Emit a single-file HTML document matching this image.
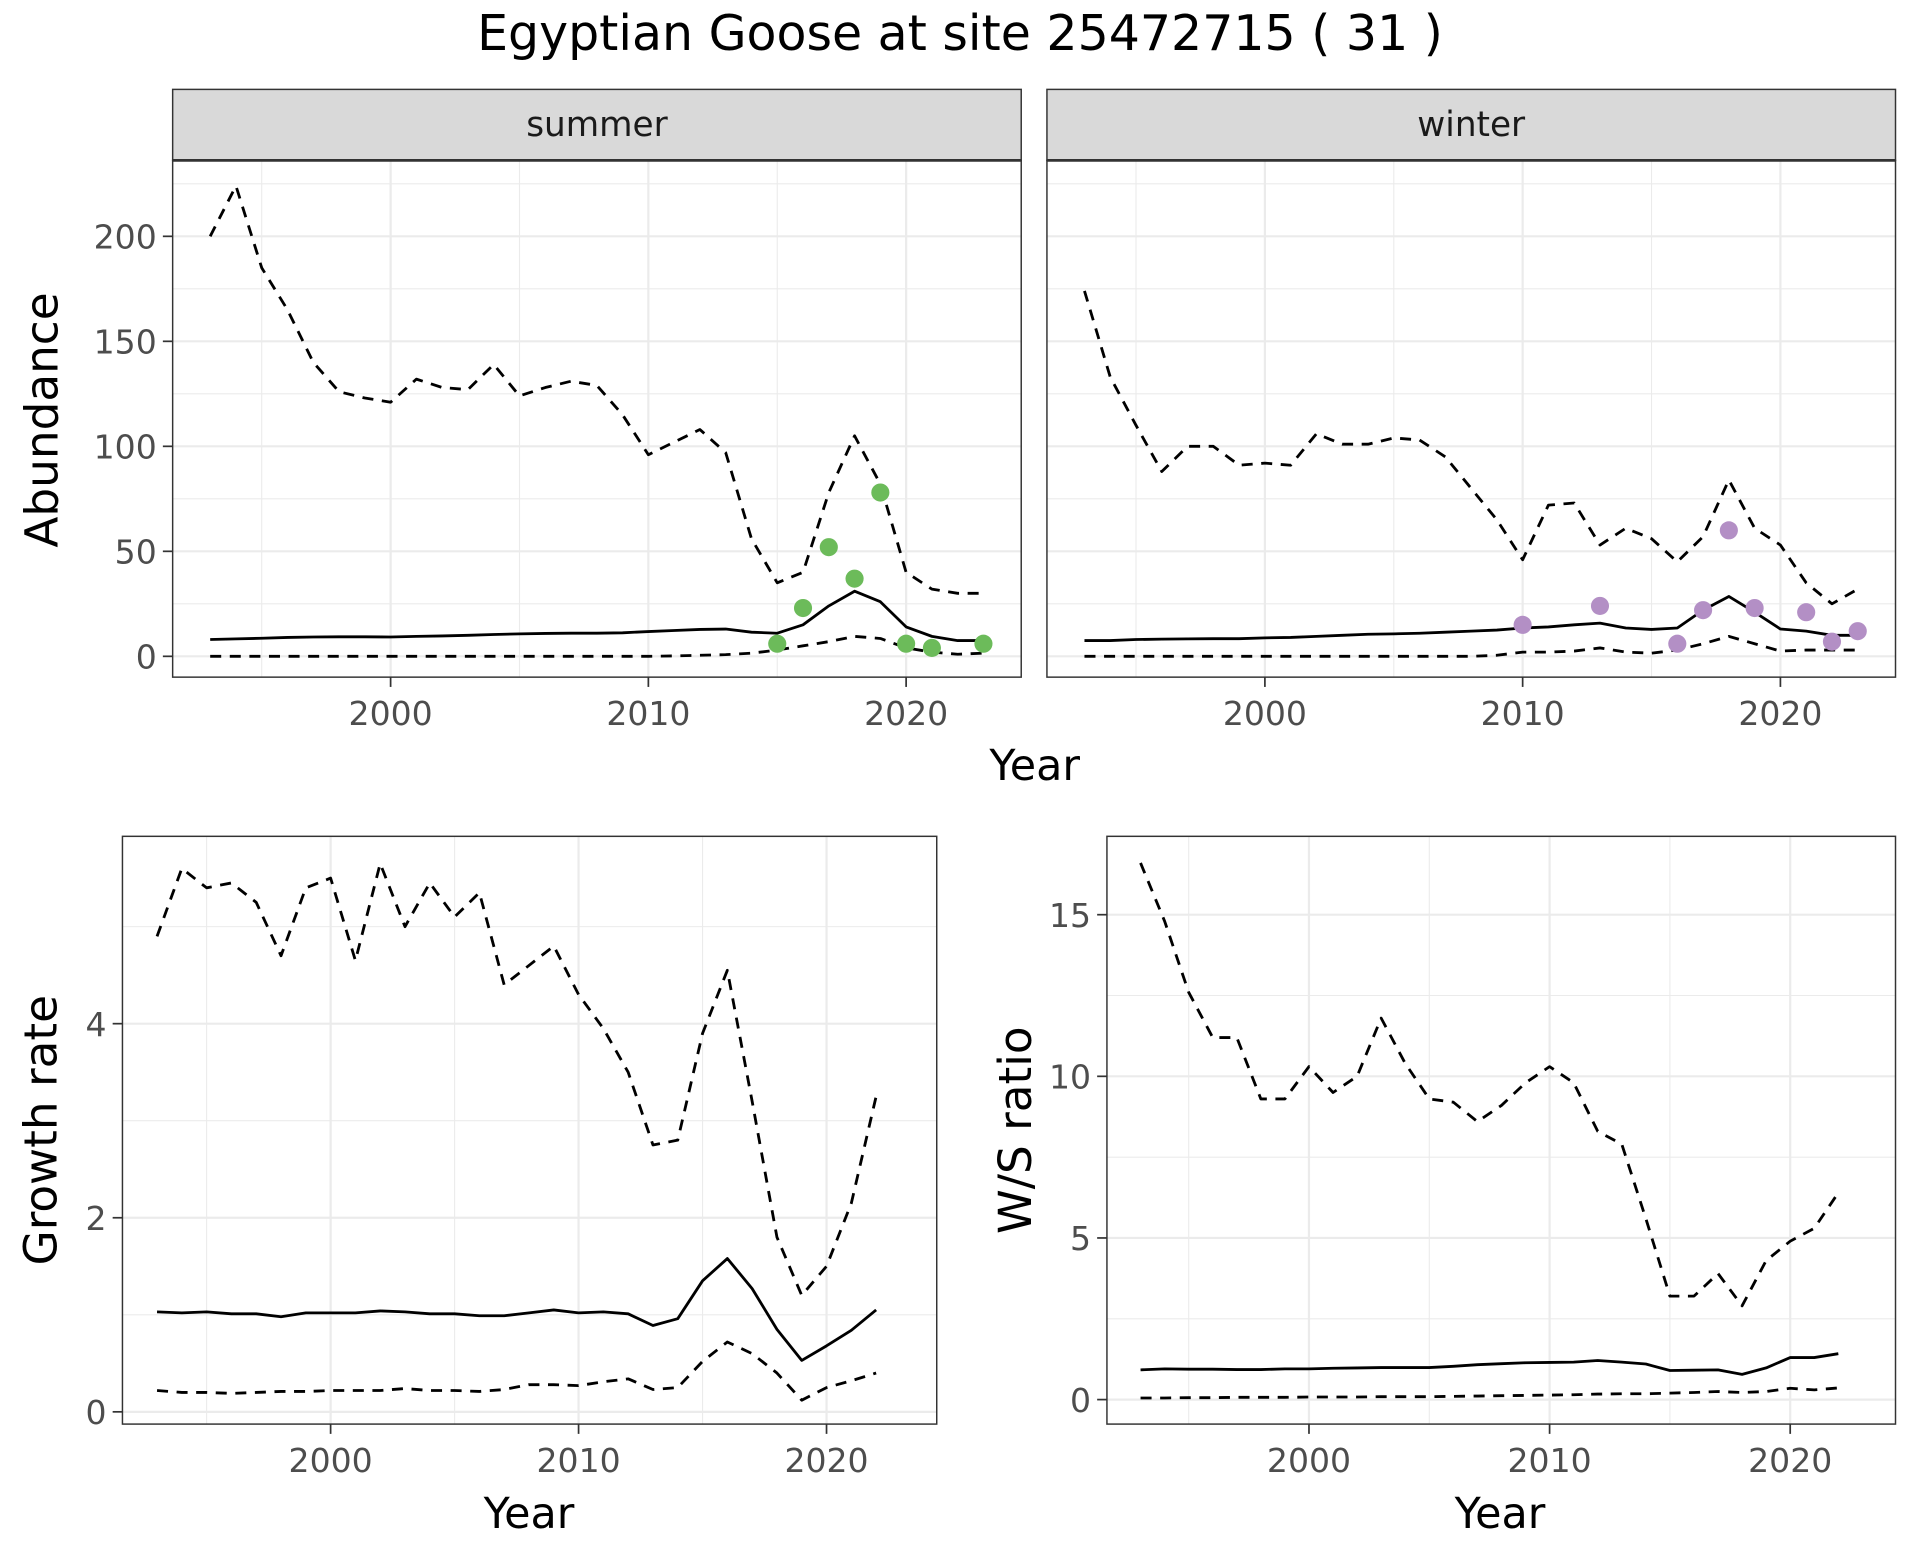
<!DOCTYPE html>
<html><head><meta charset="utf-8"><style>
html,body{margin:0;padding:0;background:#fff;}
svg{display:block;font-family:"DejaVu Sans","Liberation Sans",sans-serif;}
</style></head><body>
<svg id="c" width="1920" height="1560" viewBox="0 0 1568 1274" xmlns="http://www.w3.org/2000/svg">
<text x="784" y="41" text-anchor="middle" font-size="40" fill="#000">Egyptian Goose at site 25472715 ( 31 )</text>
</svg>
<script>
// ---- data ----
const sumYears = [1993,1994,1995,1996,1997,1998,1999,2000,2001,2002,2003,2004,2005,2006,2007,2008,2009,2010,2011,2012,2013,2014,2015,2016,2017,2018,2019,2020,2021,2022,2023];
const sumUpper = [200,224,185,165,140,126,123,121,132,128,127,139,124,128,131,129,115,96,102,108,97,56,35,40,78,105,82,40,32,30,30];
const sumMean = [8,8.3,8.6,9,9.2,9.3,9.3,9.2,9.5,9.7,10,10.4,10.7,10.9,11,11,11.2,11.8,12.3,12.8,13,11.5,11,15,24,31,26,14,9.5,7.5,7.5];
const sumLower = [0,0,0,0,0,0,0,0,0,0,0,0,0,0,0,0,0,0,0.2,0.5,0.8,1.5,3,5,7,9.5,8.5,4,2,1,1.5];
const sumObsYears = [2015,2016,2017,2018,2019,2020,2021,2023];
const sumObs = [6,23,52,37,78,6,4,6];

const winYears = [1993,1994,1995,1996,1997,1998,1999,2000,2001,2002,2003,2004,2005,2006,2007,2008,2009,2010,2011,2012,2013,2014,2015,2016,2017,2018,2019,2020,2021,2022,2023];
const winUpper = [174,133,110,88,100,100,91,92,91,106,101,101,104,103,95,80,65,46,72,73,53,61,56,45,57,84,61,53,35,25,32];
const winMean = [7.5,7.5,8,8.2,8.3,8.4,8.4,8.8,9,9.5,10,10.5,10.7,11,11.5,12,12.5,13.5,14,15,15.8,13.5,12.8,13.5,22,28.5,21,13,12,10,10];
const winLower = [0,0,0,0,0,0,0,0,0,0,0,0,0,0,0,0,0.5,2,2,2.5,4,2,1.5,3,6,9.5,6,2.5,3,3,3];
const winObsYears = [2010,2013,2016,2017,2018,2019,2021,2022,2023];
const winObs = [15,24,6,22,60,23,21,7,12];

const grYears = [1993,1994,1995,1996,1997,1998,1999,2000,2001,2002,2003,2004,2005,2006,2007,2008,2009,2010,2011,2012,2013,2014,2015,2016,2017,2018,2019,2020,2021,2022];
const grUpper = [4.9,5.6,5.4,5.45,5.25,4.7,5.4,5.5,4.65,5.65,5.0,5.45,5.1,5.35,4.4,4.6,4.8,4.3,3.95,3.5,2.75,2.8,3.9,4.55,3.2,1.8,1.2,1.5,2.15,3.25];
const grMean = [1.03,1.02,1.03,1.01,1.01,0.98,1.02,1.02,1.02,1.04,1.03,1.01,1.01,0.99,0.99,1.02,1.05,1.02,1.03,1.01,0.89,0.96,1.35,1.58,1.27,0.85,0.53,0.68,0.84,1.05];
const grLower = [0.22,0.2,0.2,0.19,0.2,0.21,0.21,0.22,0.22,0.22,0.24,0.22,0.22,0.21,0.23,0.28,0.28,0.27,0.31,0.34,0.23,0.25,0.52,0.72,0.6,0.4,0.12,0.25,0.32,0.4];

const wsYears = [1993,1994,1995,1996,1997,1998,1999,2000,2001,2002,2003,2004,2005,2006,2007,2008,2009,2010,2011,2012,2013,2014,2015,2016,2017,2018,2019,2020,2021,2022];
const wsUpper = [16.6,14.8,12.6,11.2,11.2,9.3,9.3,10.3,9.5,10,11.8,10.4,9.3,9.2,8.6,9.1,9.8,10.3,9.8,8.3,7.9,5.6,3.2,3.2,3.9,2.9,4.3,4.9,5.3,6.4];
const wsMean = [0.92,0.95,0.94,0.94,0.93,0.93,0.95,0.95,0.97,0.98,0.99,0.99,0.99,1.03,1.08,1.11,1.14,1.15,1.16,1.21,1.16,1.1,0.9,0.91,0.92,0.78,0.98,1.3,1.3,1.42];
const wsLower = [0.05,0.05,0.06,0.06,0.07,0.07,0.07,0.08,0.08,0.08,0.09,0.09,0.09,0.1,0.11,0.12,0.13,0.14,0.15,0.17,0.18,0.18,0.2,0.22,0.25,0.22,0.25,0.35,0.3,0.36];

const abTicks = [0,50,100,150,200];
const abMinor = [25,75,125,175,225];
const yearTicks = [2000,2010,2020];
const yearMinor = [1995,2005,2015];
const grTicks = [0,2,4];
const grMinor = [1,3,5];
const wsTicks = [0,5,10,15];
const wsMinor = [2.5,7.5,12.5];

const NS = "http://www.w3.org/2000/svg";
const svg = document.getElementById('c');
function mk(tag, attrs, parent){
  const e = document.createElementNS(NS, tag);
  for (const k in attrs) e.setAttribute(k, attrs[k]);
  (parent||svg).appendChild(e);
  return e;
}
function lin(d0,d1,r0,r1){return v => r0 + (v-d0)*(r1-r0)/(d1-d0);}

function panel(o){
  const g = mk('g',{});
  
  
  const X = lin(2000,2020,o.x2000,o.x2020), Y = lin(0,o.yRef,o.y0,o.yRefPx);
  mk('rect',{x:o.l,y:o.t,width:o.r-o.l,height:o.b-o.t,fill:'#fff'},g);
  o.yMinor.forEach(v=>{ const y=Y(v); if(y>o.t&&y<o.b) mk('line',{x1:o.l,x2:o.r,y1:y,y2:y,stroke:'#ebebeb','stroke-width':0.9},g);});
  yearMinor.forEach(v=>{ const x=X(v); mk('line',{x1:x,x2:x,y1:o.t,y2:o.b,stroke:'#ebebeb','stroke-width':0.9},g);});
  o.yTicks.forEach(v=>{ const y=Y(v); mk('line',{x1:o.l,x2:o.r,y1:y,y2:y,stroke:'#ebebeb','stroke-width':1.8},g);});
  yearTicks.forEach(v=>{ const x=X(v); mk('line',{x1:x,x2:x,y1:o.t,y2:o.b,stroke:'#ebebeb','stroke-width':1.8},g);});
  const line=(xs,vs,dash,nm)=>{
    const p = mk('polyline',{points:xs.map((yr,i)=>X(yr).toFixed(2)+','+Y(vs[i]).toFixed(2)).join(' '),fill:'none',stroke:'#000','stroke-width':2.3,'stroke-linejoin':'round'},g);
    if(dash) p.setAttribute('stroke-dasharray','9 7');
    
    
  };
  line(o.years,o.upper,true,'upper-bound-line');
  line(o.years,o.lower,true,'lower-bound-line');
  line(o.years,o.mean,false,'mean-line');
  if(o.obs){ o.obsYears.forEach((yr,i)=>{
    const c = mk('circle',{cx:X(yr),cy:Y(o.obs[i]),r:7.4,fill:o.color},g);
    
    
  });}
  mk('rect',{x:o.l,y:o.t,width:o.r-o.l,height:o.b-o.t,fill:'none',stroke:'#333','stroke-width':1.2},g);
  if(o.yLabels){ o.yTicks.forEach(v=>{ const y=Y(v);
    mk('line',{x1:o.l-8,x2:o.l,y1:y,y2:y,stroke:'#333','stroke-width':1.4},g);
    const t=mk('text',{x:o.l-13,y:y+10,'text-anchor':'end','font-size':27,fill:'#4d4d4d'},g); t.textContent=v;
    
    
  });}
  yearTicks.forEach(v=>{ const x=X(v);
    mk('line',{x1:x,x2:x,y1:o.b,y2:o.b+8,stroke:'#333','stroke-width':1.4},g);
    const t=mk('text',{x:x,y:o.b+39,'text-anchor':'middle','font-size':27,fill:'#4d4d4d'},g); t.textContent=v;
    
    
  });
  if(o.strip){
    mk('rect',{x:o.l,y:o.t-58,width:o.r-o.l,height:58,fill:'#d9d9d9',stroke:'#333','stroke-width':1.2},g);
    mk('line',{x1:o.l,x2:o.r,y1:o.t,y2:o.t,stroke:'#333','stroke-width':2.2},g);
    const t=mk('text',{x:(o.l+o.r)/2,y:o.t-20,'text-anchor':'middle','font-size':28,fill:'#1a1a1a'},g); t.textContent=o.strip;
    
    
  }
}

panel({name:'summer-panel',l:141,r:834,t:131,b:553,x2000:319,x2020:740,y0:536,yRef:200,yRefPx:193,yTicks:abTicks,yMinor:abMinor,yLabels:true,
  years:sumYears,upper:sumUpper,mean:sumMean,lower:sumLower,obsYears:sumObsYears,obs:sumObs,color:'#6cbb5a',strip:'summer'});
panel({name:'winter-panel',l:855,r:1548,t:131,b:553,x2000:1033,x2020:1454,y0:536,yRef:200,yRefPx:193,yTicks:abTicks,yMinor:abMinor,yLabels:false,
  years:winYears,upper:winUpper,mean:winMean,lower:winLower,obsYears:winObsYears,obs:winObs,color:'#b38fc5',strip:'winter'});
panel({name:'growth-rate-panel',l:100,r:765,t:683,b:1163,x2000:270,x2020:675,y0:1153,yRef:4,yRefPx:836,yTicks:grTicks,yMinor:grMinor,yLabels:true,
  years:grYears,upper:grUpper,mean:grMean,lower:grLower});
panel({name:'ws-ratio-panel',l:904,r:1548,t:683,b:1163,x2000:1069,x2020:1462,y0:1143,yRef:15,yRefPx:747,yTicks:wsTicks,yMinor:wsMinor,yLabels:true,
  years:wsYears,upper:wsUpper,mean:wsMean,lower:wsLower});

function title(txt,x,y,rot,nm,fs){
  const t = mk('text',{x:x,y:y,'text-anchor':'middle','font-size':fs,fill:'#000'});
  if(rot) t.setAttribute('transform','rotate(-90 '+x+' '+y+')');
  t.textContent = txt;
  
  
}
title('Year',845,637,false,'x-axis-title-abundance',35);
title('Abundance',47,343,true,'y-axis-title-abundance',37);
title('Year',432,1248,false,'x-axis-title-growth',35);
title('Growth rate',46,923,true,'y-axis-title-growth',37);
title('Year',1225,1248,false,'x-axis-title-ratio',35);
title('W/S ratio',842,923,true,'y-axis-title-ratio',37);
</script>
</body></html>
